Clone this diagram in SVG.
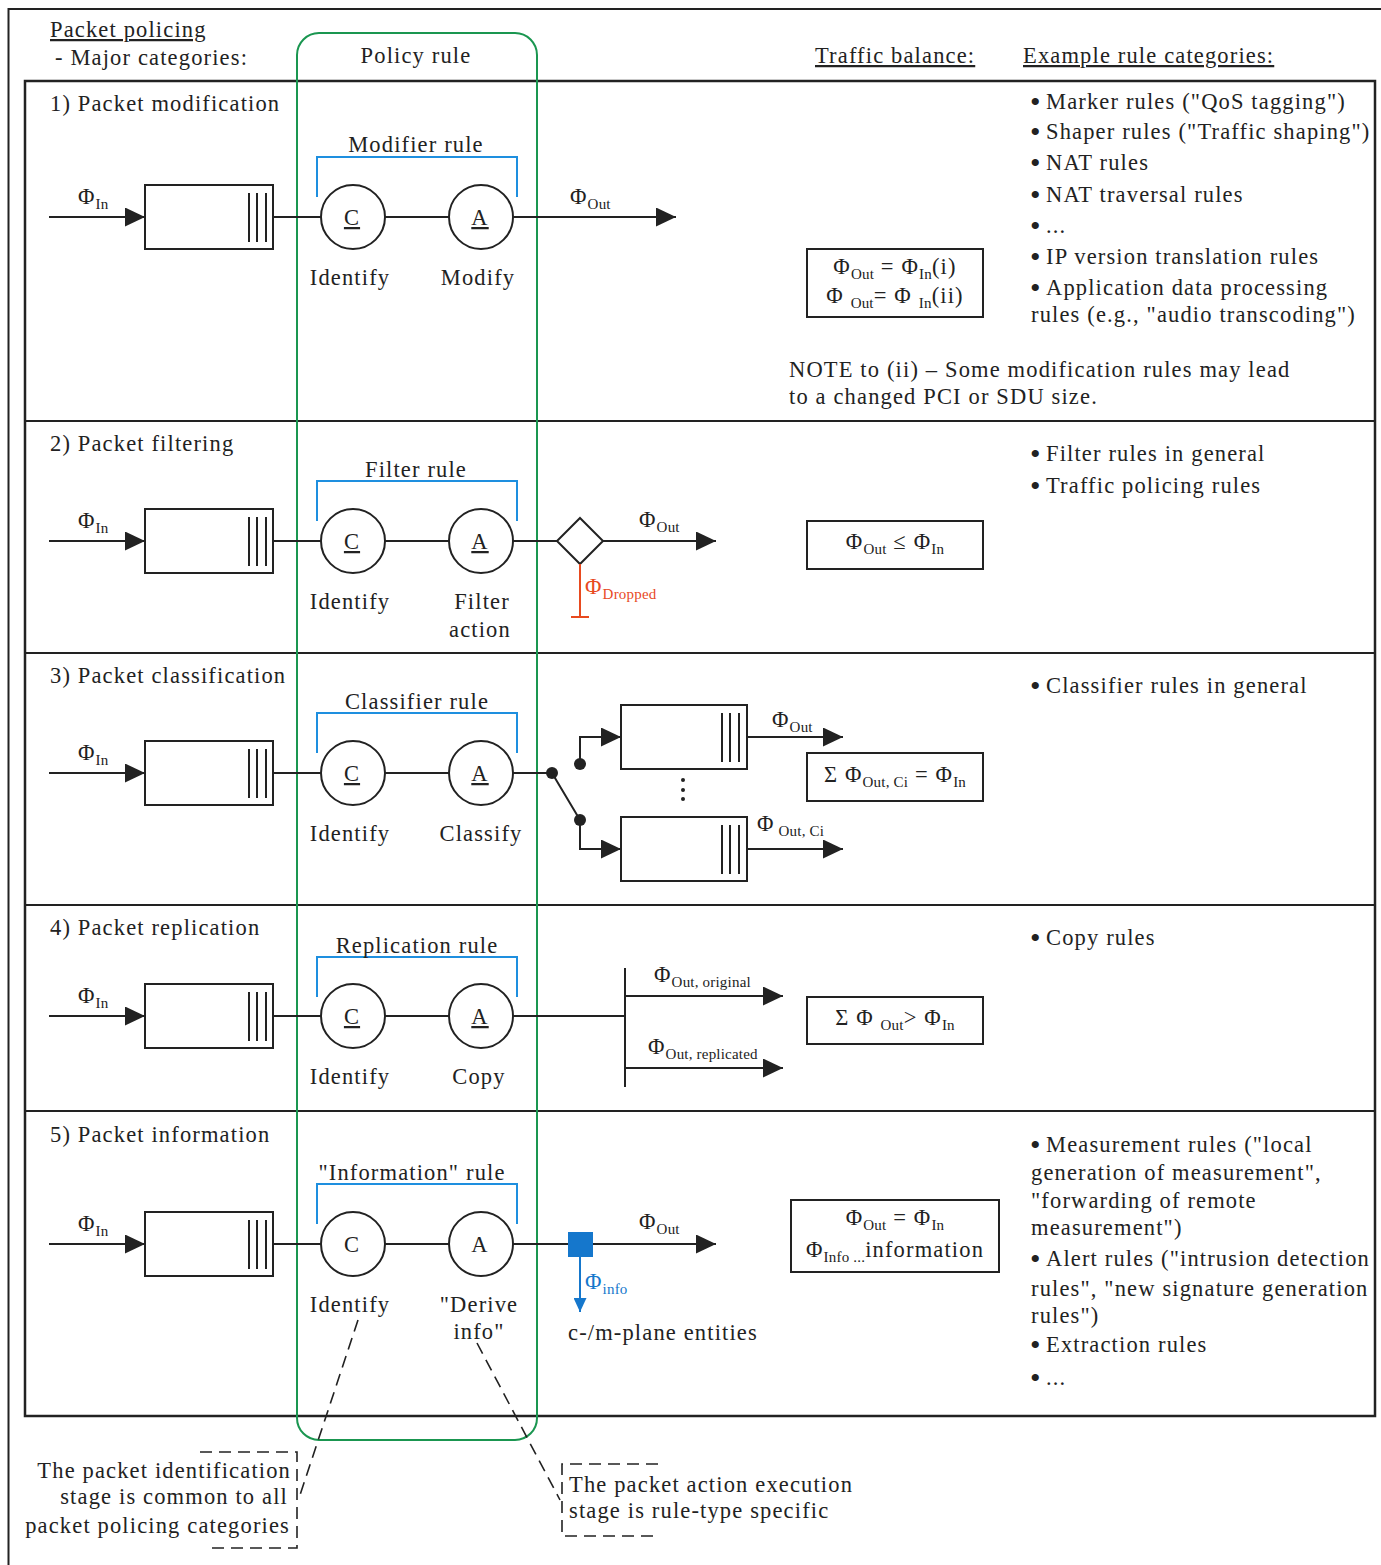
<svg xmlns="http://www.w3.org/2000/svg" width="1381" height="1565" viewBox="0 0 1381 1565">
<style>
text{font-family:"Liberation Serif","Times New Roman",serif;font-size:22.5px;fill:#222;letter-spacing:1.15px}
.s{font-size:15px;letter-spacing:0.2px}
.m{text-anchor:middle}
.e{text-anchor:end}
.u{text-decoration:underline}
.b{font-size:30px;letter-spacing:0}
.ln{stroke:#222;stroke-width:2;fill:none}
.q{fill:#fff;stroke:#222;stroke-width:2}
.br{stroke:#1e8fdf;stroke-width:2;fill:none}
.dash{stroke:#222;stroke-width:1.6;stroke-dasharray:12 7;fill:none}
.red{fill:#e84a1f}
.blue{fill:#1577cc}
</style>
<defs>
<marker id="arr" markerUnits="userSpaceOnUse" markerWidth="20" markerHeight="19" refX="20" refY="9.5" orient="auto"><path d="M0,0 L20,9.5 L0,19 z" fill="#222"/></marker>
<marker id="barr" markerUnits="userSpaceOnUse" markerWidth="14" markerHeight="13" refX="14" refY="6.5" orient="auto"><path d="M0,0 L14,6.5 L0,13 z" fill="#1577cc"/></marker>
</defs>
<rect width="1381" height="1565" fill="#fff"/>
<g id="frame">
<rect x="8.5" y="9" width="1400" height="1600" fill="none" stroke="#222" stroke-width="2"/>
<rect x="25" y="81" width="1350" height="1335" fill="none" stroke="#222" stroke-width="2.5"/>
<path d="M25,421H1375M25,653H1375M25,905H1375M25,1111H1375" stroke="#222" stroke-width="2"/>
</g>
<g id="header">
<text x="50" y="37" class="u">Packet policing</text>
<text x="55" y="65">- Major categories:</text>
<text x="416" y="63" class="m">Policy rule</text>
<text x="815" y="63" class="u">Traffic balance:</text>
<text x="1023" y="63" class="u">Example rule categories:</text>
</g>
<g id="policy-rule-frame">
<rect x="297" y="33" width="240" height="1407" rx="22" fill="none" stroke="#1a9650" stroke-width="2"/>
</g>

<!-- Row 1 -->
<g id="row1">
<text x="50" y="111">1) Packet modification</text>
<g id="row1-queue"><rect class="q" x="145" y="185" width="128" height="64"/><path class="ln" d="M249,193V242M257,193V242M266,193V242"/></g>
<g id="row1-C"><circle class="q" cx="353" cy="217" r="32"/><text x="352" y="225" class="m u">C</text><text x="350" y="285" class="m">Identify</text></g>
<g id="row1-A"><circle class="q" cx="481" cy="217" r="32"/><text x="480" y="225" class="m u">A</text><text x="478" y="285" class="m">Modify</text></g>
<g id="row1-bracket"><path class="br" d="M317,197V157H517V197"/><text x="416" y="152" class="m">Modifier rule</text></g>
<text x="78" y="204">Φ<tspan class="s" dy="5">In</tspan></text>
<text x="570" y="204">Φ<tspan class="s" dy="5">Out</tspan></text>
<g id="row1-balance"><rect x="807" y="249" width="176" height="68" fill="none" stroke="#222" stroke-width="2"/>
<text x="895" y="274" class="m">Φ<tspan class="s" dy="5">Out</tspan><tspan dy="-5"> = Φ</tspan><tspan class="s" dy="5">In</tspan><tspan dy="-5">(i)</tspan></text>
<text x="895" y="303" class="m">Φ <tspan class="s" dy="5">Out</tspan><tspan dy="-5">= Φ </tspan><tspan class="s" dy="5">In</tspan><tspan dy="-5">(ii)</tspan></text></g>
<g id="row1-examples">
<text x="1030" y="112" class="b">•</text><text x="1046" y="109">Marker rules ("QoS tagging")</text>
<text x="1030" y="142" class="b">•</text><text x="1046" y="139">Shaper rules ("Traffic shaping")</text>
<text x="1030" y="173" class="b">•</text><text x="1046" y="170">NAT rules</text>
<text x="1030" y="205" class="b">•</text><text x="1046" y="202">NAT traversal rules</text>
<text x="1030" y="236" class="b">•</text><text x="1046" y="233">...</text>
<text x="1030" y="267" class="b">•</text><text x="1046" y="264">IP version translation rules</text>
<text x="1030" y="298" class="b">•</text><text x="1046" y="295">Application data processing</text>
<text x="1031" y="322">rules (e.g., "audio transcoding")</text>
<text x="789" y="377">NOTE to (ii) – Some modification rules may lead</text>
<text x="789" y="404">to a changed PCI or SDU size.</text>
</g>
</g>

<!-- Row 2 -->
<g id="row2">
<text x="50" y="451">2) Packet filtering</text>
<g id="row2-queue"><rect class="q" x="145" y="509" width="128" height="64"/><path class="ln" d="M249,517V566M257,517V566M266,517V566"/></g>
<g id="row2-C"><circle class="q" cx="353" cy="541" r="32"/><text x="352" y="549" class="m u">C</text><text x="350" y="609" class="m">Identify</text></g>
<g id="row2-A"><circle class="q" cx="481" cy="541" r="32"/><text x="480" y="549" class="m u">A</text><text x="482" y="609" class="m">Filter</text><text x="480" y="637" class="m">action</text></g>
<g id="row2-bracket"><path class="br" d="M317,521V481H517V521"/><text x="416" y="477" class="m">Filter rule</text></g>
<g id="row2-diamond"><path d="M580,518 L603,541 L580,564 L557,541 Z" fill="#fff" stroke="#222" stroke-width="2"/></g>
<text x="78" y="528">Φ<tspan class="s" dy="5">In</tspan></text>
<text x="639" y="527">Φ<tspan class="s" dy="5">Out</tspan></text>
<text x="585" y="594" class="red">Φ<tspan class="s red" dy="5">Dropped</tspan></text>
<g id="row2-balance"><rect x="807" y="521" width="176" height="48" fill="none" stroke="#222" stroke-width="2"/>
<text x="895" y="549" class="m">Φ<tspan class="s" dy="5">Out</tspan><tspan dy="-5"> ≤ Φ</tspan><tspan class="s" dy="5">In</tspan></text></g>
<g id="row2-examples">
<text x="1030" y="464" class="b">•</text><text x="1046" y="461">Filter rules in general</text>
<text x="1030" y="496" class="b">•</text><text x="1046" y="493">Traffic policing rules</text>
</g>
</g>

<!-- Row 3 -->
<g id="row3">
<text x="50" y="683">3) Packet classification</text>
<g id="row3-queue"><rect class="q" x="145" y="741" width="128" height="64"/><path class="ln" d="M249,749V798M257,749V798M266,749V798"/></g>
<g id="row3-C"><circle class="q" cx="353" cy="773" r="32"/><text x="352" y="781" class="m u">C</text><text x="350" y="841" class="m">Identify</text></g>
<g id="row3-A"><circle class="q" cx="481" cy="773" r="32"/><text x="480" y="781" class="m u">A</text><text x="481" y="841" class="m">Classify</text></g>
<g id="row3-bracket"><path class="br" d="M317,753V713H517V753"/><text x="417" y="709" class="m">Classifier rule</text></g>
<g id="row3-queue-top"><rect class="q" x="621" y="705" width="126" height="64"/><path class="ln" d="M722,713V762M730,713V762M739,713V762"/></g>
<g id="row3-queue-bottom"><rect class="q" x="621" y="817" width="126" height="64"/><path class="ln" d="M722,825V874M730,825V874M739,825V874"/></g>
<g id="row3-switch"><circle cx="552" cy="773" r="6" fill="#222"/><circle cx="580" cy="764" r="6" fill="#222"/><circle cx="580" cy="820" r="6" fill="#222"/></g>
<g fill="#222"><circle cx="683" cy="780" r="2"/><circle cx="683" cy="790" r="2"/><circle cx="683" cy="799" r="2"/></g>
<text x="78" y="760">Φ<tspan class="s" dy="5">In</tspan></text>
<text x="772" y="727">Φ<tspan class="s" dy="5">Out</tspan></text>
<text x="757" y="831">Φ<tspan class="s" dy="5"> Out, Ci</tspan></text>
<g id="row3-balance"><rect x="807" y="753" width="176" height="48" fill="none" stroke="#222" stroke-width="2"/>
<text x="895" y="782" class="m">Σ Φ<tspan class="s" dy="5">Out, Ci</tspan><tspan dy="-5"> = Φ</tspan><tspan class="s" dy="5">In</tspan></text></g>
<g id="row3-examples"><text x="1030" y="696" class="b">•</text><text x="1046" y="693">Classifier rules in general</text></g>
</g>

<!-- Row 4 -->
<g id="row4">
<text x="50" y="935">4) Packet replication</text>
<g id="row4-queue"><rect class="q" x="145" y="984" width="128" height="64"/><path class="ln" d="M249,992V1041M257,992V1041M266,992V1041"/></g>
<g id="row4-C"><circle class="q" cx="353" cy="1016" r="32"/><text x="352" y="1024" class="m u">C</text><text x="350" y="1084" class="m">Identify</text></g>
<g id="row4-A"><circle class="q" cx="481" cy="1016" r="32"/><text x="480" y="1024" class="m u">A</text><text x="479" y="1084" class="m">Copy</text></g>
<g id="row4-bracket"><path class="br" d="M317,997V957H517V997"/><text x="417" y="953" class="m">Replication rule</text></g>
<text x="78" y="1003">Φ<tspan class="s" dy="5">In</tspan></text>
<text x="654" y="982">Φ<tspan class="s" dy="5">Out, original</tspan></text>
<text x="648" y="1054">Φ<tspan class="s" dy="5">Out, replicated</tspan></text>
<g id="row4-balance"><rect x="807" y="997" width="176" height="47" fill="none" stroke="#222" stroke-width="2"/>
<text x="895" y="1025" class="m">Σ Φ <tspan class="s" dy="5">Out</tspan><tspan dy="-5">&gt; Φ</tspan><tspan class="s" dy="5">In</tspan></text></g>
<g id="row4-examples"><text x="1030" y="948" class="b">•</text><text x="1046" y="945">Copy rules</text></g>
</g>

<!-- Row 5 -->
<g id="row5">
<text x="50" y="1142">5) Packet information</text>
<g id="row5-queue"><rect class="q" x="145" y="1212" width="128" height="64"/><path class="ln" d="M249,1220V1269M257,1220V1269M266,1220V1269"/></g>
<g id="row5-C"><circle class="q" cx="353" cy="1244" r="32"/><text x="352" y="1252" class="m">C</text><text x="350" y="1312" class="m">Identify</text></g>
<g id="row5-A"><circle class="q" cx="481" cy="1244" r="32"/><text x="480" y="1252" class="m">A</text><text x="479" y="1312" class="m">"Derive</text><text x="479" y="1339" class="m">info"</text></g>
<g id="row5-bracket"><path class="br" d="M317,1224V1184H517V1224"/><text x="412" y="1180" class="m">"Information" rule</text></g>
<text x="78" y="1231">Φ<tspan class="s" dy="5">In</tspan></text>
<text x="639" y="1229">Φ<tspan class="s" dy="5">Out</tspan></text>
<text x="585" y="1289" class="blue">Φ<tspan class="s blue" dy="5">info</tspan></text>
<text x="568" y="1340">c-/m-plane entities</text>
<g id="row5-balance"><rect x="791" y="1200" width="208" height="72" fill="none" stroke="#222" stroke-width="2"/>
<text x="895" y="1225" class="m">Φ<tspan class="s" dy="5">Out</tspan><tspan dy="-5"> = Φ</tspan><tspan class="s" dy="5">In</tspan></text>
<text x="895" y="1257" class="m">Φ<tspan class="s" dy="5">Info ...</tspan><tspan dy="-5">information</tspan></text></g>
<g id="row5-examples">
<text x="1030" y="1155" class="b">•</text><text x="1046" y="1152">Measurement rules ("local</text>
<text x="1031" y="1180">generation of measurement",</text>
<text x="1031" y="1208">"forwarding of remote</text>
<text x="1031" y="1235">measurement")</text>
<text x="1030" y="1269" class="b">•</text><text x="1046" y="1266">Alert rules ("intrusion detection</text>
<text x="1031" y="1296">rules", "new signature generation</text>
<text x="1031" y="1323">rules")</text>
<text x="1030" y="1355" class="b">•</text><text x="1046" y="1352">Extraction rules</text>
<text x="1030" y="1388" class="b">•</text><text x="1046" y="1385">...</text>
</g>
</g>

<g id="connectors">
<path class="ln" d="M49,217H145" marker-end="url(#arr)"/>
<path class="ln" d="M273,217H321M385,217H449"/>
<path class="ln" d="M513,217H676" marker-end="url(#arr)"/>
<path class="ln" d="M49,541H145" marker-end="url(#arr)"/>
<path class="ln" d="M273,541H321M385,541H449M513,541H557"/>
<path class="ln" d="M603,541H716" marker-end="url(#arr)"/>
<path d="M580,564V617M571,617H589" stroke="#e84a1f" stroke-width="2" fill="none"/>
<path class="ln" d="M49,773H145" marker-end="url(#arr)"/>
<path class="ln" d="M273,773H321M385,773H449M513,773H552L580,820"/>
<path class="ln" d="M580,764V737H621" marker-end="url(#arr)"/>
<path class="ln" d="M580,820V849H621" marker-end="url(#arr)"/>
<path class="ln" d="M747,737H843" marker-end="url(#arr)"/>
<path class="ln" d="M747,849H843" marker-end="url(#arr)"/>
<path class="ln" d="M49,1016H145" marker-end="url(#arr)"/>
<path class="ln" d="M273,1016H321M385,1016H449M513,1016H625M625,968V1087"/>
<path class="ln" d="M625,996H783" marker-end="url(#arr)"/>
<path class="ln" d="M625,1068H783" marker-end="url(#arr)"/>
<path class="ln" d="M49,1244H145" marker-end="url(#arr)"/>
<path class="ln" d="M273,1244H321M385,1244H449"/>
<path class="ln" d="M513,1244H716" marker-end="url(#arr)"/>
<rect x="568" y="1232" width="25" height="25" fill="#1577cc"/>
<path d="M580,1257V1312" stroke="#1577cc" stroke-width="2" fill="none" marker-end="url(#barr)"/>
<path class="dash" d="M358,1320L300,1495"/>
<path class="dash" d="M477,1343L560,1500"/>
</g>

<g id="note-identification">
<path class="dash" d="M200,1452H297V1548H206"/>
<text x="291" y="1478" class="e">The packet identification</text>
<text x="288" y="1504" class="e">stage is common to all</text>
<text x="290" y="1533" class="e">packet policing categories</text>
</g>
<g id="note-action">
<path class="dash" d="M658,1464H562V1536H658"/>
<text x="569" y="1492">The packet action execution</text>
<text x="569" y="1518">stage is rule-type specific</text>
</g>
</svg>
